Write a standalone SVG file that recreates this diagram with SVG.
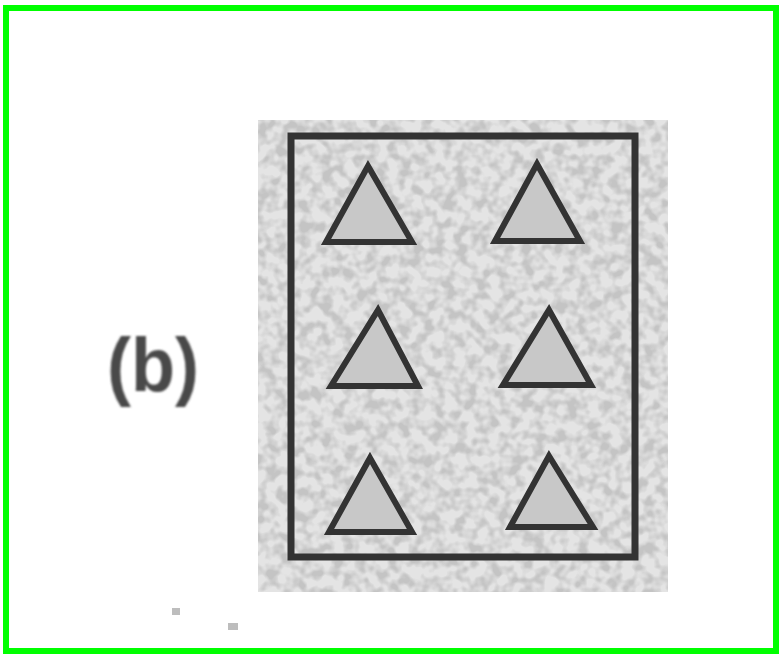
<svg xmlns="http://www.w3.org/2000/svg" width="779" height="654" viewBox="0 0 779 654">
<style>
.tri{fill:#c8c8c8;stroke:#333;stroke-width:6;stroke-linejoin:miter}
.lbl{font-family:"Liberation Sans",Arial,sans-serif;font-weight:bold;fill:#4a4a4a}
.dot{fill:#bdbdbd}
</style>
<defs>
<filter id="speckle" x="0" y="0" width="100%" height="100%">
<feTurbulence type="fractalNoise" baseFrequency="0.09" numOctaves="2" seed="7" result="n"/>
<feColorMatrix in="n" type="matrix" values="0 0 0 0 0.55  0 0 0 0 0.55  0 0 0 0 0.55  3.5 0 0 0 -1.4" result="dots"/>
<feComposite in="dots" in2="SourceGraphic" operator="in"/>
</filter>
<filter id="soft"><feGaussianBlur stdDeviation="1.2"/></filter>
</defs>
<rect x="0" y="0" width="779" height="654" fill="#ffffff"/>
<rect x="6" y="8" width="770" height="643" fill="none" stroke="#00ff00" stroke-width="6"/>
<g id="panel">
<rect x="258" y="120" width="410" height="472" fill="#e4e4e4"/>
<rect x="258" y="120" width="410" height="472" fill="#fff" filter="url(#speckle)"/>
<rect x="291" y="136" width="344" height="421" fill="none" stroke="#333" stroke-width="7"/>
</g>
<g id="triangles">
<polygon class="tri" points="368,166 412,242 326,242"/>
<polygon class="tri" points="537,164 580,241 495,241"/>
<polygon class="tri" points="378,310 418,386 331,386"/>
<polygon class="tri" points="549,310 591,385 503,385"/>
<polygon class="tri" points="370,458 412,532 329,532"/>
<polygon class="tri" points="549,456 593,527 510,527"/>
</g>
<g id="label">
<text class="lbl" x="107" y="391" font-size="76" textLength="92" lengthAdjust="spacingAndGlyphs" filter="url(#soft)">(b)</text>
</g>
<rect class="dot" x="172" y="608" width="8" height="7"/>
<rect class="dot" x="228" y="623" width="10" height="7"/>
</svg>
